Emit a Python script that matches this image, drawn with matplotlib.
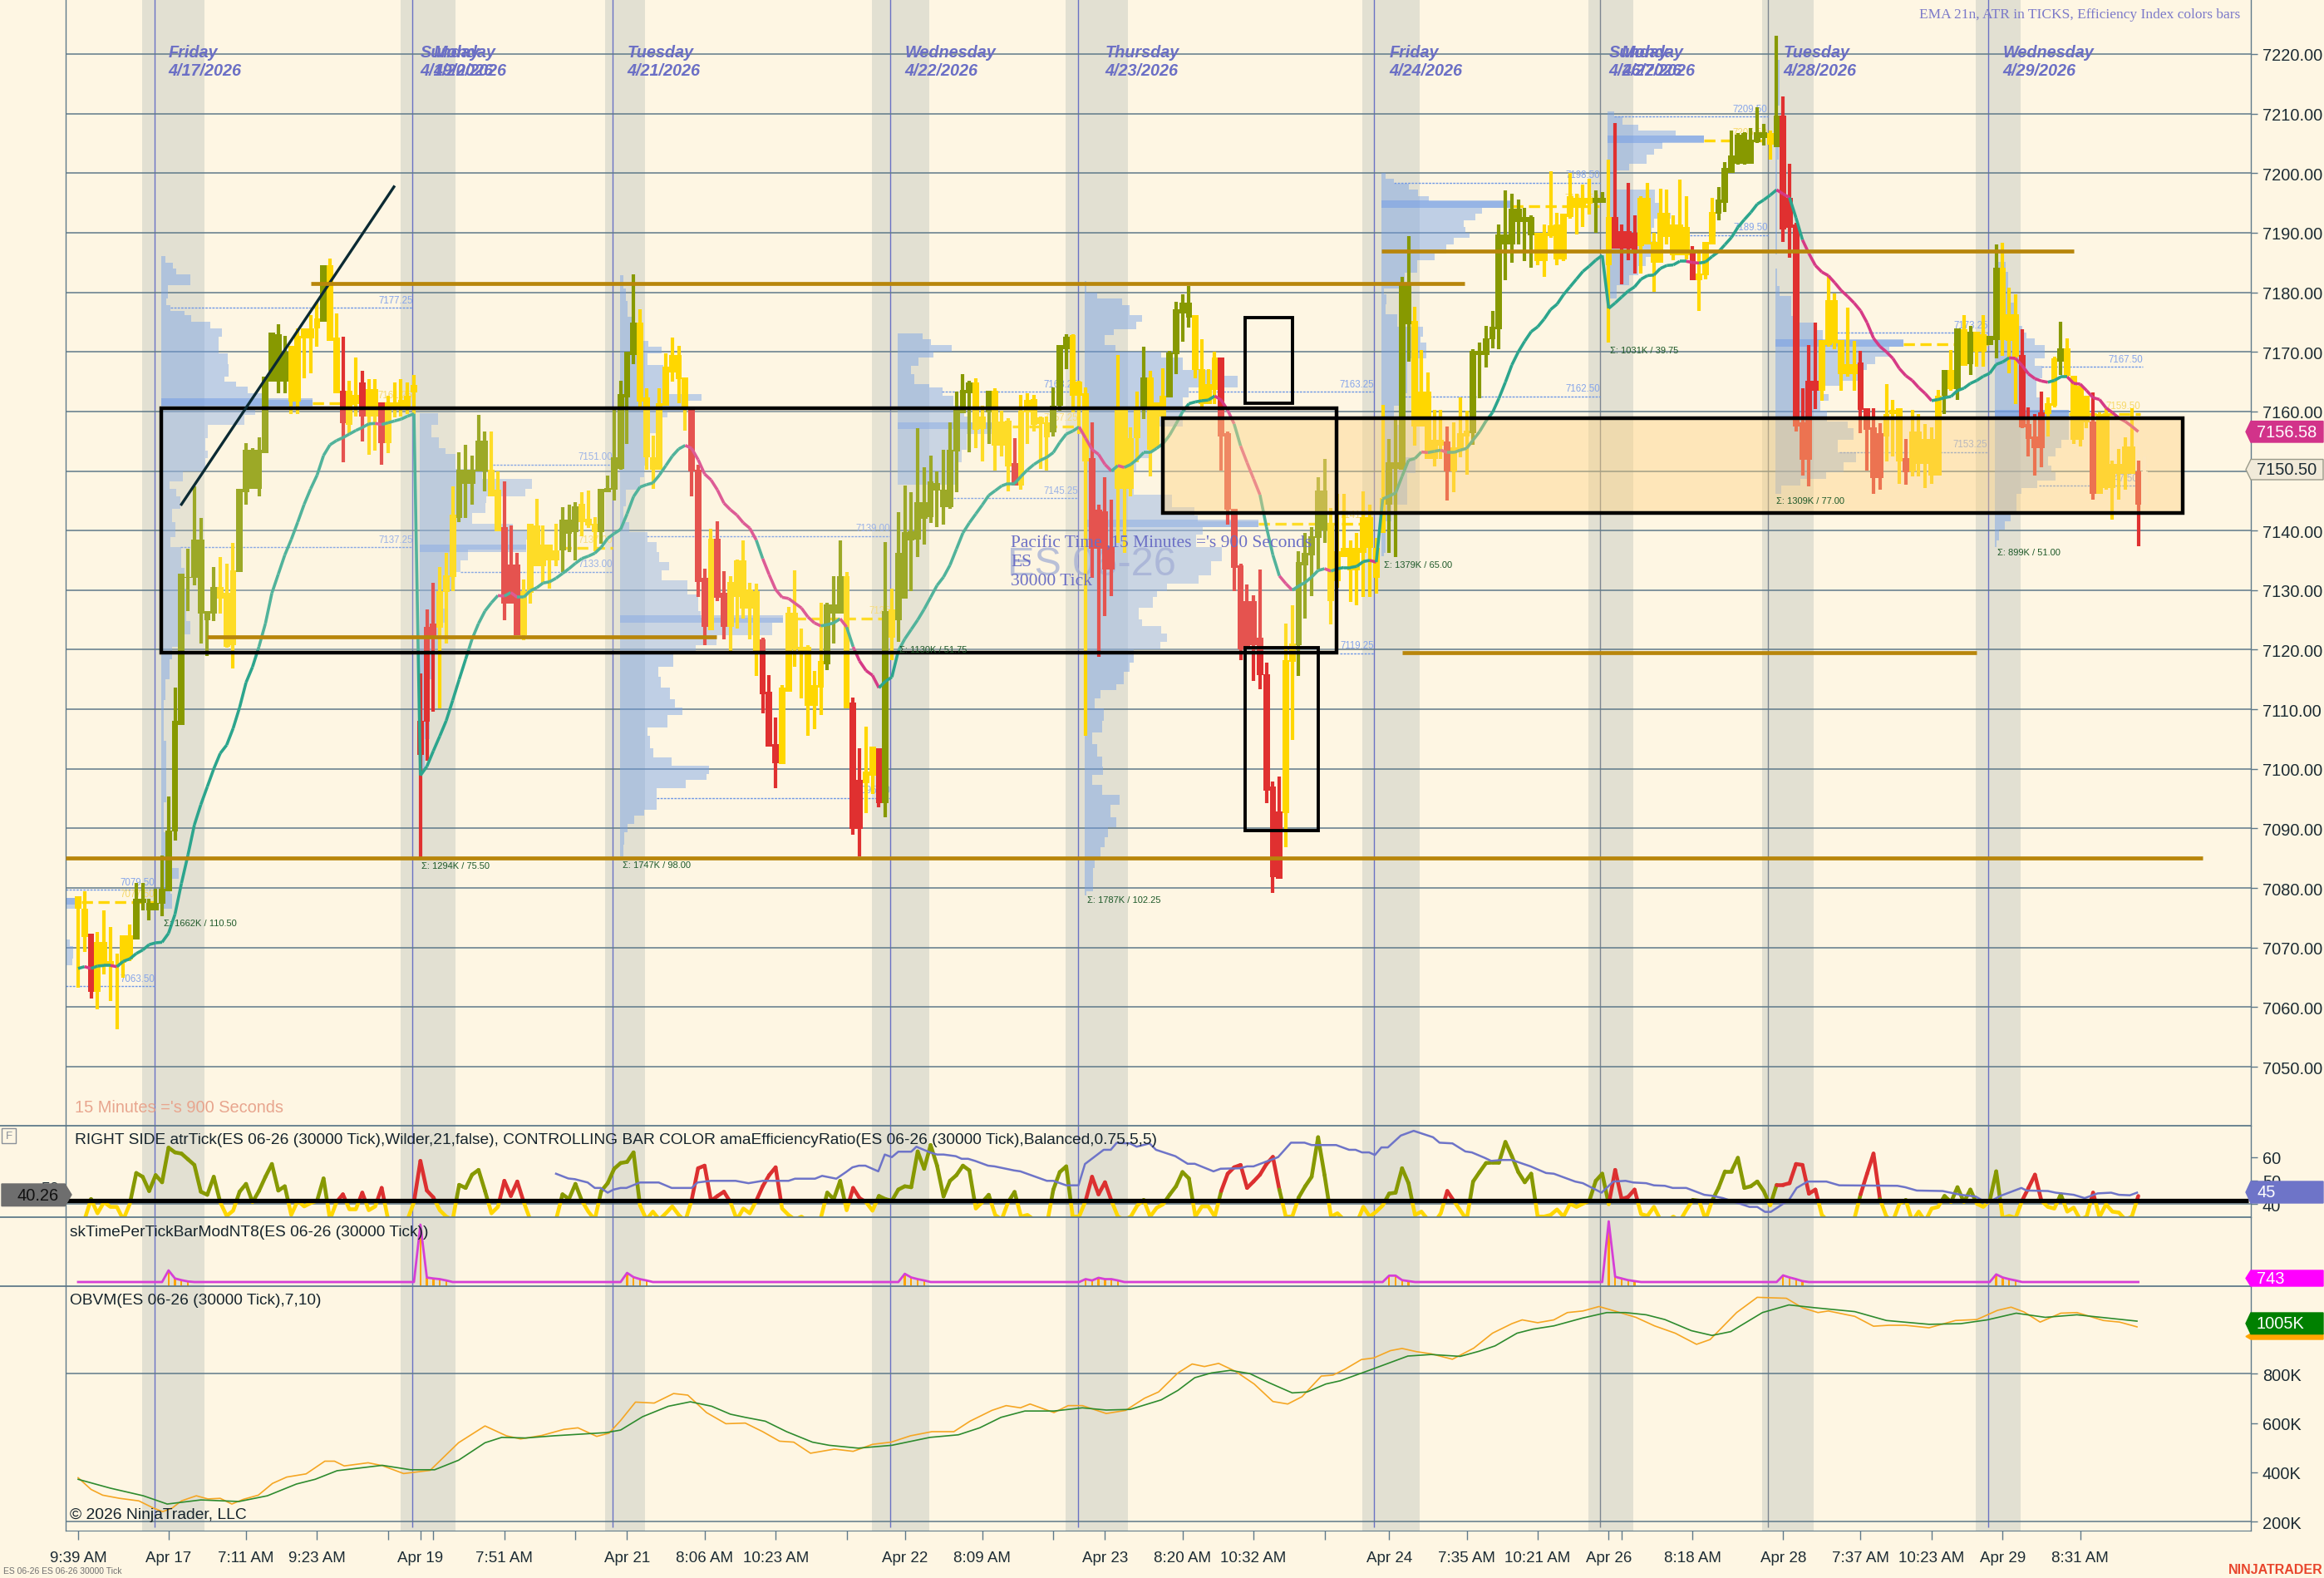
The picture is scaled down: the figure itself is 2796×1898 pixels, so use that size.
import numpy as np
import matplotlib
matplotlib.use('Agg')
import matplotlib.pyplot as plt
from matplotlib.collections import LineCollection
from matplotlib.patches import Polygon, Rectangle
from matplotlib.lines import Line2D

plt.rcParams['font.family'] = ['Liberation Sans', 'DejaVu Sans']

# price bars
bar_high = [
7078.6,7079.5,7072.4,7072.6,7076.3,7073.5,7069,7072,7073.9,7080.8,
7080.8,7078.2,7079.9,7085.5,7095.3,7113.7,7132.7,7137,7147.4,7142.1,
7126.5,7133.9,7135.5,7134.5,7137.9,7147,7154.7,7153.8,7155.7,7165.8,
7173.3,7174.6,7172.7,7171,7173.9,7173.9,7176.1,7178.4,7184.6,7185.7,
7176.5,7172.6,7165.2,7169,7166.8,7165.4,7165.4,7161.5,7162.6,7164.9,
7165.4,7164.9,7166.1,7116,7126.7,7131.2,7133.9,7136.3,7147.4,7153.2,
7154.4,7152.6,7159.4,7156.7,7156.7,7150,7148.2,7140.9,7136.2,7131.8,
7141.1,7145.3,7140.8,7137.7,7141.2,7144,7144.3,7144.7,7146.5,7146.7,
7142.2,7147,7149.2,7160.5,7165.2,7170,7183,7177.2,7163.9,7156,
7163.9,7169.7,7172.4,7171,7165.7,7160.2,7151,7133.6,7140.3,7141.6,
7133.2,7132.3,7135.2,7138.4,7131.3,7131.1,7122,7115.7,7108.6,7114,
7127.2,7133.3,7123.5,7120.8,7116.5,7127.9,7127.9,7132.4,7138.4,7133,
7112,7103.5,7107.1,7103.7,7103.5,7138,7130.3,7143.1,7147.5,7146.5,
7157.2,7150.6,7152.6,7150,7153.5,7158.2,7163.3,7166.2,7165.1,7165.5,
7161,7163.5,7163.9,7160.1,7158.9,7155.5,7162.8,7163,7162.8,7159.2,
7159.2,7164,7171.1,7173,7173,7165.1,7164,7158.2,7144.3,7148.9,
7145.2,7169.4,7160.2,7157.3,7163.3,7170.9,7166.8,7161.5,7167.2,7170.1,
7178.4,7179.7,7181.1,7176.1,7172.1,7167.1,7170,7169,7156.7,7143.7,
7134.4,7131,7129.1,7133.5,7117.8,7097.9,7098.7,7124.4,7127.4,7136.6,
7139.6,7140.6,7148.9,7152,7143.8,7146.2,7146.2,7138.4,7139.6,7146.6,
7144.3,7138.7,7161.1,7155.4,7158.6,7182.6,7189.4,7177.5,7170.3,7166.6,
7160.3,7160.3,7157.4,7158.2,7162.4,7160.1,7170.5,7171.5,7174.3,7176.9,
7191.4,7197.1,7196.5,7195.6,7194.2,7192.9,7190,7191.4,7200.3,7193.3,
7193.2,7200,7196.5,7198.1,7199.1,7197.1,7196.8,7202.2,7208.4,7191.4,
7198.4,7192.9,7196.1,7198.4,7190,7197.4,7197.2,7192.9,7198.9,7196.1,
7187.7,7186.6,7188.5,7195.8,7197.7,7201.9,7207.2,7206.8,7206.9,7207.6,
7211,7208.2,7207.2,7223,7212.9,7201.5,7191.6,7163.9,7171.2,7174.9,
7172,7182.8,7179.8,7172,7177.4,7171.9,7170.1,7160.6,7160.6,7158,
7164.6,7161.9,7160.6,7155.4,7160.3,7159.5,7157.9,7157.3,7163.6,7166.9,
7170.3,7174,7176.2,7174.3,7173.4,7176.2,7172.7,7188,7188.3,7180.8,
7179.7,7173.8,7160.7,7159.5,7163.3,7162.3,7169.2,7175,7172.3,7166,
7164.6,7162.6,7163.2,7159.8,7160.6,7151.8,7153.7,7155.6,7160.6,7151.8]

bar_low = [
7063.3,7069.2,7061.5,7059.6,7065.5,7061.1,7056.3,7065,7067.8,7071.4,
7076.3,7074.6,7076.2,7075.2,7079.5,7088,7107.3,7126.5,7130.8,7121,
7119,7124.8,7126.1,7120.3,7116.9,7133.1,7144.4,7147,7145.7,7153,
7165,7163,7163,7159.6,7159.6,7165.5,7166.4,7170.9,7175,7171.8,
7163,7151.4,7156.4,7159.2,7155,7152.7,7153.4,7151,7153,7159,
7159.2,7159.6,7159.6,7085,7101.4,7109.6,7110.2,7121.1,7129.9,7141.4,
7142.1,7144.4,7150,7146.6,7145.8,7139.9,7124.9,7127.9,7122.5,7121.6,
7127.8,7134,7131.3,7130.3,7134,7133,7136.4,7135,7139.1,7140.4,
7136.6,7137.8,7146.5,7145,7150.2,7154.5,7168,7160.4,7150.2,7147,
7150.2,7161,7165,7161.4,7156.8,7145.7,7128.9,7120.8,7123.3,7128.2,
7121.7,7119.8,7123.5,7125.2,7121.7,7115.6,7109.3,7103.7,7096.8,7100.8,
7112.9,7117.2,7111.8,7105.6,7106.7,7109.1,7116.6,7121,7126,7110.1,
7089,7085.3,7092.6,7095.8,7093.5,7091.9,7118.3,7121.3,7128.6,7129.9,
7135.5,7137.6,7141.3,7140.6,7141,7143.7,7146.4,7159.7,7153.1,7153.8,
7151.6,7154.5,7150.1,7152.5,7146.6,7147.5,7146.9,7154.5,7156.7,7150.4,
7150.1,7155.8,7160.1,7167.1,7159.9,7156.2,7105.6,7132,7118.8,7125.7,
7129,7137.9,7136.2,7145.7,7151.4,7158.7,7149.1,7153.8,7154.5,7162.3,
7166.3,7171.7,7174.1,7165.5,7160.4,7161.3,7161.3,7150.1,7141,7129.9,
7118.2,7120.3,7114.7,7113.4,7094.3,7079.2,7081.8,7086.8,7104.9,7115.6,
7125.2,7129,7133.5,7137.9,7124.3,7130.4,7136.3,7128,7127.5,7128.8,
7128.8,7129.4,7139.6,7136.2,7135.5,7150.4,7168.3,7154.2,7157.4,7152.3,
7150.7,7152,7145,7146.4,7152.3,7149.4,7154.4,7162.2,7167.4,7170.6,
7170.4,7182,7184.9,7188.1,7185.2,7184.1,7184.6,7182.6,7189.1,7184.6,
7185.2,7192.4,7189.7,7190.9,7193,7190,7195,7171.5,7187.3,7181.3,
7185.4,7183.2,7183.2,7188.1,7180.1,7184.9,7188.1,7185.4,7186.2,7185.5,
7182,7176.9,7182.2,7188.1,7192.1,7193.5,7200,7201.4,7201.4,7201.6,
7205.1,7204.6,7202.2,7204.4,7188.4,7185.8,7156.7,7149.3,7147.4,7160.4,
7161.8,7170.9,7170.4,7163.4,7165.9,7163.4,7156.3,7150.1,7146.2,7146.8,
7151.6,7152.5,7147.8,7147.7,7149.1,7149.1,7147.2,7147.8,7149.3,7159.5,
7163.4,7162,7167.7,7166.1,7167.5,7167.5,7171.2,7168.9,7169.3,7166.4,
7161.2,7157.2,7152.5,7149.3,7150.6,7155.8,7160.7,7166.1,7165.7,7154.6,
7154.1,7157.2,7145.2,7146.1,7146.9,7141.8,7145.2,7146.8,7149.5,7137.4]

body_top = [
7078.6,7076.5,7072.4,7071,7071,7067.7,7067.1,7072,7072,7078.2,
7078.2,7077.5,7077.5,7079.9,7089.7,7108,7132.7,7132.2,7138.5,7138.5,
7126.5,7130.5,7130.5,7129.5,7133.3,7147,7153.6,7153.6,7153.6,7165.8,
7173.3,7173,7170,7171,7172.7,7173.9,7173.9,7175.6,7184.6,7184.6,
7172.4,7163.5,7163.5,7162.8,7164.8,7163.7,7163.7,7161.5,7161.5,7161.5,
7162,7162.6,7164.5,7108.1,7123.9,7124.4,7129.9,7132.5,7142.7,7150.2,
7150.2,7150.2,7155.1,7155.1,7150.2,7146.8,7140.6,7134.3,7134.3,7129.9,
7141.1,7140.9,7137.7,7137.7,7136.7,7141.8,7141.8,7144.1,7144.5,7142,
7141.1,7147,7147.2,7152.3,7162.9,7170,7174.9,7174.9,7162.3,7152.3,
7161.4,7167.5,7169.5,7169.5,7165.7,7160.2,7150.2,7132,7138.6,7138.6,
7129.6,7131.4,7135,7135,7130.1,7129.9,7121.7,7113,7104.2,7113.7,
7126.2,7126.2,7120.5,7120.5,7114,7118.1,7127.6,7127.6,7132.3,7132.3,
7111.1,7098.1,7099.5,7103.7,7103.5,7126.5,7126.7,7136.2,7139.7,7139.9,
7144.7,7144.7,7148.2,7148,7146.8,7153.6,7160.2,7163.6,7164.8,7164.8,
7159.2,7163.5,7163.5,7158.3,7158.5,7151.3,7160.1,7161.9,7162.1,7159,
7158.2,7161,7171.1,7172.6,7172.8,7165,7163.1,7152.1,7143.5,7143.3,
7137.2,7160.2,7160.2,7155.5,7160.4,7165.7,7165.7,7161.5,7162.6,7169.9,
7177.2,7178.2,7178.2,7176.1,7167.1,7164.6,7169,7169,7156.3,7143.7,
7134.2,7128.1,7128.1,7122,7115.9,7097,7092.9,7118.3,7121.1,7134.7,
7136.2,7139.1,7146.7,7146.7,7140.8,7136.6,7137.1,7137.1,7137.1,7142.2,
7142.2,7137.1,7145.4,7151.5,7151.5,7181.2,7181.2,7175.2,7163.3,7163.3,
7155.2,7155.2,7154.9,7154,7156.3,7156.8,7170.2,7170.2,7172.3,7174.2,
7189.7,7189.7,7194.1,7194,7192.6,7192.6,7190,7190,7191.3,7191.4,
7193.2,7196.1,7195.8,7195.8,7195.8,7195.8,7195.8,7192.6,7192.6,7190.2,
7190.2,7190,7195.8,7195.8,7188.4,7193.3,7193.3,7191.4,7191.4,7191,
7186.8,7183.2,7188.5,7193.5,7195.6,7200.9,7203,7206.5,7206.8,7205.6,
7206.9,7206.9,7206.8,7209.7,7209.7,7195.9,7191.4,7158.2,7165.1,7165.1,
7172,7178.7,7178.7,7172,7168,7168,7168.2,7160.6,7157.3,7156.3,
7159.5,7160.3,7160.5,7152.1,7156.6,7156.6,7155.4,7155.4,7162.6,7166.9,
7167,7174,7173.8,7173.4,7173.4,7172.9,7172.7,7184.1,7184.1,7176.3,
7176.3,7169.4,7157.9,7155.8,7159.9,7161.4,7168.9,7170.6,7170.6,7166,
7164.3,7162.6,7158.3,7159.5,7159.5,7151.2,7151.2,7154.1,7154.1,7149.9]

body_bot = [
7076.5,7071.8,7062.5,7062.5,7067.1,7067.1,7066.8,7067.5,7068,7071.4,
7077.5,7076.2,7076.2,7077.3,7079.5,7089.5,7107.3,7132,7132,7126.1,
7125,7126.1,7128.6,7120.5,7120.8,7133.1,7146.4,7147,7147,7153,
7165,7165,7165,7161.7,7161.7,7172.2,7172.2,7173.9,7175,7171.8,
7163,7158,7157.7,7161.3,7159.2,7159.2,7159.2,7154.7,7154.7,7160.7,
7160.7,7160.7,7163.2,7102.3,7107.9,7122,7123.7,7129.7,7132.2,7142.1,
7147.9,7147.9,7150,7150,7145.8,7139.9,7127.8,7127.8,7122.5,7122.5,
7129.6,7134,7134,7135,7135,7136.7,7139.4,7139.7,7141.4,7140.8,
7139.7,7139.7,7146.5,7146.9,7150.4,7162.3,7169.5,7161.7,7152.3,7150.2,
7150.2,7161,7166.5,7165.4,7160.2,7149.9,7131.4,7123.8,7123.3,7128.7,
7123.8,7123.8,7128.9,7126.9,7126.9,7119.8,7112.5,7103.7,7101,7100.8,
7112.9,7120.1,7119.8,7110.6,7110.6,7113.6,7117.5,7126,7126,7110.1,
7089.9,7089.9,7097.6,7098.8,7094.2,7094.2,7122,7124.9,7128.6,7138.3,
7138.5,7142,7142.3,7146.7,7144,7144,7153.3,7159.7,7163.1,7156.9,
7157,7159.9,7154.2,7154.2,7150.8,7147.5,7147.5,7159.9,7157.7,7157.9,
7155.6,7156.5,7160.9,7170.5,7162.6,7162.6,7151.6,7136.9,7136.9,7133.5,
7133.5,7147,7147,7147,7155.5,7160.2,7153.6,7153.8,7159.2,7162.3,
7169.6,7176.5,7175.8,7166.9,7161.3,7161.3,7163.6,7155.8,7143.5,7133.7,
7120,7120,7120.7,7115.7,7096.3,7081.8,7081.6,7092.6,7118,7120.7,
7134.2,7135.9,7138.7,7140,7128.2,7131.5,7135.5,7133.3,7133.3,7136.3,
7137.1,7132.1,7139.6,7144.4,7150.4,7150.2,7174.6,7157.4,7157.4,7152,
7152,7154.2,7149.9,7149.9,7153.4,7155.8,7156.3,7169.4,7169.4,7172.1,
7173.8,7188.1,7188.1,7191.8,7191.8,7189.6,7185.2,7185.2,7189.4,7185.5,
7185.5,7192.6,7194.2,7194.2,7194.8,7195,7195,7184.5,7187.3,7187.3,
7187.3,7186.5,7187.8,7188.1,7184.9,7184.9,7189.3,7186.2,7186.2,7186.2,
7182,7182,7182.8,7188.1,7193.2,7195,7200.1,7201.6,7201.6,7201.6,
7205.2,7205.9,7204.8,7204.4,7190.5,7190.8,7157.5,7151.9,7151.9,7163.4,
7163.4,7171.2,7171.4,7166.3,7166.3,7166.3,7160.2,7156.9,7148.8,7148.8,
7155.8,7159.5,7151.6,7149.8,7149.9,7151.2,7151.2,7149.3,7149.3,7162.6,
7163.7,7163.7,7167.7,7168,7170,7170,7171.2,7172,7172,7171.9,
7169.2,7157.3,7155.4,7153.9,7153.9,7159.5,7160.9,7168.3,7166,7155.2,
7155.2,7158.1,7146.1,7146.1,7147.1,7147.2,7149.5,7149.5,7149.5,7144.4]

bar_color = ("yyryyyyyyo" "oooooooooo" "ooyyyooooo" "oooyyyyyoy" "yryyryyryy" "yyyrrryyyo"
             "ooooyyrrry" "yyyyyoooyy" "yooooooyyy" "yyyyyrrryr" "ryyyyyrrry" "yyyyyyoooy"
             "rryyroyooo" "oooooooooy" "yoyyyryyyy" "yoooyyyrrr" "ryyyyoyyyo" "oooyyyyrrr"
             "rrrrrrryyo" "ooooyyyyyy" "yyyooooyyy" "yyryyyoooo" "ooooooyyyy" "yyyyyooyrr"
             "rryyyyyyyy" "ryyyoooooo" "ooyorrrrrr" "yyyyyyrrrr" "yyyryyyyyo" "yoyoyyooyy"
             "yrrrryyoyy" "yyryyyyyyr")

ema21 = [
7066.5,7066.8,7066.5,7066.9,7067,7067,7066.8,7067.7,7068.1,7069,
7069.6,7070.5,7070.8,7070.9,7072.4,7075.6,7080.8,7085.5,7090.6,7094,
7097,7100,7102.6,7104,7106.8,7110.3,7114.5,7117.1,7120.5,7124.4,
7129.5,7132.7,7135.9,7138.5,7141.4,7144.4,7147,7149.3,7152.6,7154.4,
7155.1,7155.6,7156.2,7156.8,7157.3,7157.9,7158,7157.8,7158.1,7158.4,
7158.7,7159.2,7159.6,7098.9,7100.4,7103,7105.5,7108.1,7111.5,7115,
7118.4,7121.8,7124.4,7126.5,7127.9,7129.1,7129,7129.6,7128.8,7128.8,
7129.9,7130.4,7131.2,7131.4,7132,7132.8,7133.6,7134.5,7135.3,7135.7,
7136.2,7137.2,7138.7,7139.5,7140.2,7142.8,7145.7,7147.3,7147.7,7148,
7149.3,7150.9,7152.5,7153.7,7154.3,7153.8,7151.9,7149.5,7148.5,7146.8,
7144.6,7143.5,7142.6,7141.3,7140.4,7138.4,7135.3,7132.6,7130.1,7128.8,
7128.6,7127.8,7127,7125.5,7124.5,7124,7124.2,7124.5,7125.2,7123.8,
7120.5,7118.1,7116.5,7115.7,7113.6,7114.7,7115.4,7119.8,7121.8,7123.4,
7125,7126.8,7128.8,7130.8,7132.2,7134.2,7136.9,7139.6,7141.3,7142.8,
7144.3,7145.9,7146.7,7147.5,7147.9,7147.9,7149.1,7150.2,7151.1,7151.8,
7152.3,7153.1,7154.8,7156.2,7156.7,7157.4,7155.5,7153.6,7152.8,7151.1,
7150,7150.9,7150.6,7151.1,7152,7153.1,7153.1,7153.8,7154.6,7156,
7157.9,7159.9,7161.3,7161.6,7161.8,7161.9,7162.6,7161.9,7160.2,7157.9,
7154.2,7151.4,7148.7,7146,7140.6,7135.9,7132.4,7131.1,7130,7130.7,
7131.3,7132.2,7133.3,7133.6,7133.2,7133.6,7133.8,7133.8,7134,7134.8,
7135,7134.7,7145.3,7145.8,7146.3,7149.1,7151.8,7152.1,7153.2,7153.1,
7153.3,7153.5,7153.1,7153.1,7153.5,7153.8,7155.2,7156.6,7158.4,7159.8,
7162.2,7164.9,7167.8,7170,7171.8,7173.4,7174.2,7175.5,7177.1,7178,
7179.6,7180.9,7182.2,7183.5,7184.4,7185.4,7186.2,7177.3,7178.2,7179.2,
7180.2,7180.9,7182.2,7182.8,7182.9,7184,7184.5,7184.6,7185.2,7185.2,
7185,7184.9,7185.1,7186,7186.8,7188,7189.2,7190.9,7192.2,7193.4,
7194.8,7195.5,7196.3,7197.2,7196.5,7195.9,7192.5,7188.8,7186.5,7184.5,
7183.4,7182.8,7181.6,7180.3,7179.3,7178.2,7176.9,7174.9,7172.3,7170.9,
7170,7168.9,7167.2,7166,7165.2,7164,7163,7161.8,7162,7162.3,
7162.5,7163.5,7163.9,7164.7,7165.2,7165.9,7166.4,7167.9,7168.3,7169,
7168.9,7167.7,7166.3,7165.5,7165.1,7164.9,7165.2,7165.8,7165.8,7164.7,
7164.6,7163.5,7162.3,7162,7160.6,7159.8,7158.9,7158.3,7157.5,7156.6]

atr_tick = [
32.8,33.5,42.2,36.2,40.9,38.9,38.9,33.5,40.2,53.2,51.6,45.6,52.3,49.3,63.9,61.9,61.4,59,56.6,45.3,
44,51.6,40.9,35.1,37.3,45.3,48.6,40.9,45.6,51.6,57,45.8,47.6,35.5,41.5,39.1,40.5,41.5,50.9,33.5,
40.9,44.2,37.9,37.9,44.9,37.5,39.1,46.9,33.5,30.8,30.8,33.5,40.9,58.3,45.8,42.9,37.5,34.8,33.5,48.2,
46.9,52.5,54.5,45.6,36.2,38.9,49.9,43.5,49.6,40.9,33.5,30.8,30.8,30.8,33.5,44.2,42.2,48.6,41.5,36.9,
33.5,45.6,48.9,55,57.4,57.9,61.9,39.5,33.5,36.9,33.5,36.2,39.1,35.5,32.8,41.8,55.2,56.3,41.5,43.5,
45.3,40.9,33.5,38.2,36.2,41.5,47.6,52.3,55.6,38.2,35.5,33.5,34.8,32.8,32.8,34.2,44.9,42.2,49.9,37.5,
46.9,42.6,40.9,37.3,43.5,42.2,41.5,46.2,47.6,47.2,62.3,55,65,56.3,43.3,49.9,52.3,56.3,54.3,38.2,
40.9,44,35.5,33.5,40.9,45.2,34.8,35.5,33.5,31.5,31.5,46.2,53.6,56,34.8,34.8,41.5,51.6,44.2,49.3,
41.5,34.8,33.5,34.8,39.5,41.8,34.8,38.5,40,44,47.6,53.6,50.9,34.8,39.1,39.1,34.8,45.6,52.9,55.6,
56.6,46.9,49.6,52.5,57,60,46.2,34.8,34.8,42.9,47.6,51.6,68.3,52.3,34.8,36.2,33.5,32.2,32.2,38.9,
34.8,36.9,39.5,44.5,44.9,55.2,48.9,35.5,36.9,33.5,32.2,36.2,45.6,41.5,37.5,33.5,49.6,53.6,57.4,57.6,
57.6,66.3,60.3,53.6,49.3,52.9,34.8,34.8,35.5,37.8,34.8,40.2,38.9,40.2,41.5,49.9,52.9,40,54.5,42.2,
43.1,46.2,35.9,35.1,38.9,33.5,32.8,34.8,32.8,37.5,41.8,41.5,33.5,41.5,46.9,53.9,53.9,59.6,46.9,47.6,
49.6,45.6,39.5,48.2,48.2,48.9,57,56.6,44.5,46.2,35.5,32.8,32.2,32.2,32.2,33.5,44.2,52.9,61.4,42.2,
34.8,32.8,40.2,41.8,32.8,36.9,32.8,38.2,38.9,43.5,40.9,47.2,40.9,46.2,40.2,38.9,41.5,53.9,34.2,35.1,
34.2,41.5,46.9,52.5,41.5,38.9,38.2,44.2,36.9,38.6,33.5,34.8,44.9,34.6,40,36.9,36.5,33.5,34.8,43.5]
atr_red_spans = [(40, 48), (52, 56), (65, 69), (95, 101), (105, 109), (119, 122), (155, 161),
                 (177, 186), (211, 213), (237, 242), (263, 270), (276, 279), (301, 305), (311, 313), (318, 319)]

eff_bars = [74,75.9,76.9,78.9,80,80.9,82,82.9,84,84.9,87,89.9,91.9,95,95.9,98,101.8,103.8,106,110,111,114.1,115.2,117.4,
 118.9,119.9,120.9,121.9,123.9,124.9,126,127,129,129.8,131.9,133,134,135.9,136.8,137.8,138.9,140.9,141.9,144.9,145.9,
 150,151,153,154.9,155.9,158.8,159.9,160.8,162.9,163.9,165.9,166.9,169.9,171.8,172.9,175.8,176.9,179.9,181,182,185.8,
 187.8,189.9,191,194.8,196.8,197.8,198.8,199.9,200.8,201.8,202.8,204.8,206.8,209.8,210.8,212.8,214.8,215.8,217.8,218.8,
 220.4,222,224.9,227.3,228.5,231.8,233,235.9,237.7,239.6,240.8,242.8,244,245.7,246.9,249,251.8,253,254.7,258.8,260,
 261.2,262.1,264.9,266.1,267.8,270.7,272.7,281.7,282.9,284.7,288.7,291.5,293.8,295.6,297.7,300.9,301.7,305,306.2,309,
 310.7,312.7,314.8,316,317.7,318.8]
eff_vals = [52.9,50.9,50.6,49.2,46.9,46.9,44.9,46.2,46.9,46.9,49.2,49.2,46.9,46.9,49.2,49.9,49.9,48.9,49.9,49.9,50.8,50.8,52,50.8,
 53.6,55.6,56.3,56.3,53.9,61,59.9,62.2,62.2,64.3,61.9,61,61,60.3,59.2,59.2,58.3,56.3,56,54.3,53.9,
 49.9,49.9,48,48,57,63,63,65.9,65.7,64.3,65.7,63,60.3,57.1,57.1,53.9,55,55.2,56,56,59.9,
 66,66,65,65,63,63,61.9,61.9,60.8,64,64,69,71,68.3,66,65.7,62.3,61.9,59.6,58.3,
 58.7,58.7,56,53.2,52.9,49.6,48.9,44.9,49.6,49.9,49.2,48.9,48,47.8,46.9,46.9,44,43.6,42.6,38.9,38.9,
 36.8,36.8,41.8,46.9,49.6,49.6,48,47.8,47.2,45.8,45.6,44,43.3,40.5,43.6,46.9,45.8,45.6,44.9,44,
 42.6,44.6,44.9,44,43.8,44.9]

# time per tick spikes, everything else sits at the 743 level
tick_base = 743
spike_bars = [14,15,16,17, 53,54,55,56,57, 85,86,87,88, 128,129,130,131, 156,157,158,159,160,161,
              203,204,205,206, 237,238,239,240,241, 264,265,266,267, 297,298,299,300]
spike_vals = [1093,850,800,760, 2468,878,850,830,790, 1018,890,830,790, 990,880,830,790, 830,790,870,830,830,790,
              935,935,800,770, 2568,900,850,800,770, 943,880,830,770, 973,880,830,790]

obv_bars = [0,2,3.8,6.4,9.4,11.6,13.1,14.6,16,18.3,20.1,22,23.8,25.6,27.9,30.1,32.3,35.3,38.2,39.7,41.2,44.9,47.1,50.4,54.5,
 58.9,63,66.3,68.5,71.8,75.2,77.4,80.3,82.2,84,86.3,89.2,92.2,94.4,97.3,100.3,103.3,106,108.6,110.8,113.4,117.1,120,123,
 125.9,128.9,132.2,135.6,138.1,141.5,143.7,145.9,147.4,151.1,153.3,155.5,159.2,162.2,165.1,167.3,170.3,172.5,174.4,176.6,
 179.2,182.1,185,187.3,189.5,192.5,194.3,196.2,198.7,200.6,203.2,205,207.2,209.5,212.8,216.1,219,222,223.6,226,228.5,230.6,
 233,235.5,237.9,241.2,244.1,247.3,250.6,252.7,256.8,260,264.5,267,269.4,271,275.1,278,280.4,282.9,286.6,290.7,294,297.2,
 299.3,301.3,303.8,307,309.5,313.6,316.1,318.8]
obv_vals = [378.5,331,307.7,294.9,284.6,256.2,240.8,256.2,284.6,305.2,292.3,294.9,271.7,291,307.7,355.4,381.1,394,445.5,445.5,426.2,439,427.4,395.3,408.2,
 520.2,588.4,548.5,535.6,549.8,574.3,580.7,546,558.8,610.3,685,681.1,719.7,713.3,642.5,597.4,600,565.2,526.6,522.7,477.7,494.4,485.4,513.7,
 522.7,548.5,565.2,565.2,607.7,651.5,670.8,661.8,677.3,642.5,670.8,670.8,638.7,651.5,700.4,726.2,803.4,839.5,829.2,842,
 809.9,758.4,687.5,677.3,706.9,790.6,794.4,818.9,857.5,863.9,893.6,902.5,889.7,880.7,858.8,903.8,964.4,1003,1018.4,1006.9,1018.4,1048,
 1054.5,1072.5,1054.5,1028.7,994,964.4,919.3,938.6,1048,1109.8,1106,1067.4,1048,1054.5,1032.6,992.7,996.5,996.5,986.3,1015.9,1019.7,1057,
 1069.9,1050.6,1009.4,1045.5,1048,1015.9,1009.4,990.1]
obv_avg_bars = [0,5,10.1,13.8,19,24.9,29.3,33.8,36.7,40.1,47.1,51.5,55.2,58.9,63,65.6,69.3,73.7,81.8,84,87.4,91.4,94.8,98.1,101,103.3,
 106.4,109.7,113.7,116.3,120.8,126,131.9,136.3,139.6,142.9,146.6,151.1,155.5,159.2,162.9,167.7,170.3,172.9,175.5,178.4,181.4,184.3,
 188,190.3,193.2,195.4,199.9,205.9,209.5,214,216.9,219.4,222.8,225.3,228.5,233,236.7,239.6,242.8,245.7,249.8,253,255.9,260.8,264.9,
 269,275.1,280,286.6,291.5,295.6,300.1,304.6,309.5,318.8]
obv_avg_vals = [372,336,305.2,271.7,288.4,282,305.2,352.8,372,406.9,428.7,410.7,410.7,449.3,520.2,542,539.5,548.5,561.4,571.7,625.8,668.2,686.3,668.2,636,623.2,
 607.7,565.2,522.7,509.9,498.3,509.9,542,552.4,580.7,623.2,648.9,648.9,661.8,652.8,655.4,694,732.6,784,803.4,813.7,800.9,764.8,
 722.3,726.2,758.4,771.3,813.7,871.7,878,870.4,891,912.9,964.4,981,994,1026.1,1048,1048,1039,1019.7,974.6,955.3,970.8,1048,1079,
 1067.4,1051.9,1015.9,1000.4,1003,1018.4,1045.5,1028.7,1039,1013.3]

# volume profiles per session: price levels and width in bars
prof_starts = [-1.93, 12.9, 52.9, 83.9, 126.9, 155.9, 201.8, 236.8, 262.8, 296.8]
prof_prices = [
 [7078.3,7077.4,7076.5,7071.3,7070.2,7068.1,7067],
 [7186.1,7185,7184,7183,7181.2,7179,7177.8,7176.9,7176.1,7175,7173.9,7172.6,7169.7,7168,7165.8,7165,7164.1,7163,7162,7160.7,7159.4,7157.7,7155.5,7153.4,7152.1,7150,7148.3,7147,7145.7,7143.6,7141.4,7138.9,7137.2,7133.8,7130.3,7126.9,7124.8,7122.6,7120.5,7118.4,7115,7111.5,7104.7,7097.9,7094.4,7089.3,7083.3,7081.6,7079.1,7076.5],
 [7159.7,7157.7,7155.7,7153.9,7152.8,7150.4,7148.7,7147,7145.8,7144.6,7142.9,7141.2,7140,7138.5,7136.8,7135,7133,7129.8,7126.9,7124.6,7120,7115,7105,7100,7097],
 [7182.8,7180.7,7178.6,7175.9,7171.9,7170.9,7169.8,7167.8,7165.1,7162.9,7161.8,7160,7159,7156.3,7153.6,7150.9,7148.9,7146.8,7144.1,7141.4,7139.7,7138,7136.4,7134.7,7133.3,7131.6,7129.3,7126.5,7125.4,7124.5,7122.5,7120.8,7119.4,7117.1,7115.4,7113.7,7111.7,7110.3,7109,7106.9,7105.6,7103.5,7101.9,7100.5,7099.1,7098.1,7096.8,7094.4,7093.1,7092.1,7090.7,7089.3,7087.3,7085.3],
 [7173.1,7172.1,7171.1,7170,7169,7167.7,7166.3,7164.6,7164,7162.6,7160.9,7159.2,7158.1,7157.2,7156.2,7153.5,7151.4,7149.1,7147.7],
 [7181.9,7179.9,7178.9,7177.8,7176.1,7175.1,7173.8,7172.8,7171.1,7170,7169,7167,7166,7165,7164,7162.3,7157.5,7154.8,7152.1,7150.1,7148.1,7146,7144,7142.6,7141.6,7140.6,7139.3,7137.2,7134.9,7132.5,7131.1,7129.8,7128.8,7127.1,7125.1,7124,7122.7,7121.3,7120,7117.9,7116.3,7114.2,7113.2,7111.9,7110.2,7108.1,7106.1,7104.1,7102.1,7100.4,7099,7097.3,7095.6,7093.9,7091.9,7090.2,7088.5,7086.8,7085.1,7083.4,7081.1,7079.4,7078.7],
 [7200.1,7199.1,7198.2,7197.2,7196.1,7195.3,7194.2,7193.2,7192.1,7191,7190,7189.1,7188.1,7186.5,7185.4,7183.3,7180.6,7179.6,7178,7176.3,7174.2,7172.6,7171.5,7168.9,7165.7,7163,7160.9,7157.7,7152.3,7149.6,7144.3,7141.6,7136.3,7135.7],
 [7210.3,7209.5,7208.1,7207.1,7206.3,7205.2,7204.1,7203.1,7201.5,7200.4,7198.2,7197.2,7195,7193.4,7192.4,7190.8,7188.6,7186,7184.4,7182.8,7181.2,7179,7175.3],
 [7219,7212.8,7211.3,7207.9,7202.2,7186.3,7184,7181.1,7179.4,7176,7174.9,7173.7,7172,7170.9,7169.2,7168,7166.9,7165.2,7164.3,7162.9,7161.8,7160.1,7158.3,7157.2,7155.2,7153.2,7151.5,7149.8,7148.7,7147.5,7146.1],
 [7188,7185.1,7183.4,7178.3,7174.3,7173.2,7172.3,7171.2,7168.9,7167.7,7165.5,7162.3,7160.2,7159.2,7158.1,7156.6,7155.2,7153.8,7152.4,7150.9,7149.8,7148.4,7147.2,7146.1,7144.1,7142.7,7141.5,7140.1,7138.4,7137.3],
]
prof_vols = [
 [1.6,1.6,0,0.7,1.2,1,0],
 [.6,1.8,2.3,4.5,1,.8,1.4,3.6,4.6,7.5,9.4,8.9,10.3,10.4,9.8,11.6,13.4,16.2,23.4,14.5,12.8,7.2,6.8,7.2,6.8,3.3,1.2,2.3,2.9,1.6,2.1,1.4,3.1,3.6,3.8,3.8,4.5,3.6,1.6,1.2,.6,.4,.8,.8,.3,.6,2.7,1.4,1.6,0],
 [2.8,1.8,3,4,5.5,9.6,17.4,16.3,10.3,10.2,8.1,14.4,16.6,16.5,7.4,6.3,5.2,3.3,4.4,2.8,2.2,1.5,.8,.3,0],
 [.5,.9,1.2,1.8,4.4,6.4,4.2,6.7,7.4,12.6,10,7.4,5.7,4.4,3.9,3.7,3.1,.9,.5,1.4,4.2,5.7,6.1,7.6,6.5,10.4,12.1,12.5,25.2,23.6,14.9,11.7,8.2,5.9,6.3,7.8,8.5,9.7,7.4,4.2,4.6,5.2,8,13.8,13.4,10.2,5.7,5.7,3.7,2.2,1.2,.7,.5,0],
 [3.9,5.2,8.4,5.6,3.2,2.1,2.6,4.9,6.9,8.6,10.3,11.2,17,17,10.7,9.9,9.4,9.2,0],
 [.2,1.9,5.7,6.9,8.8,7.9,4.5,3,4.7,11.8,15.2,21.4,23.6,23.6,16.1,15.2,10.9,10.1,7.9,7.1,7.5,13.5,16.9,17.4,26.8,18.2,17.2,21.2,19.5,17.6,12.7,11.2,10.5,8.3,8.8,11.8,12.7,11.7,7.5,6.9,6,4.9,2.4,1.5,2.9,2.7,1.1,1.9,2.6,2.8,1.1,2.6,5.4,3.9,4.9,3.6,3,2.4,1.5,1.3,1.2,.2,0],
 [.6,1.9,4.2,5.7,7.3,19.9,15.6,14.5,12.8,13,13.6,11.2,10,8.3,5.5,3.6,.4,.8,.6,2.5,6.4,6,6.9,4,4,3.6,1.9,3.2,5.3,4,1.5,.6,.4,0],
 [1,2.3,4.8,10.6,14.9,8.5,7.2,6.1,3.3,1.4,1.2,7.4,8.5,9.8,7.2,6.8,7.6,5.9,4.8,3.3,1.4,.1,0],
 [.7,.7,.3,.5,.3,0,.3,.7,2.4,3.7,6.3,7.4,19.8,17.7,15.4,14.2,13.4,10,7.4,8.2,7,8,11.2,12.1,9.7,12.5,10.6,7.8,3.9,.9,0],
 [.2,1.7,2.1,3.2,4.3,4.9,6.2,7.7,6.2,7.3,6.4,6.9,11.5,11.5,11.4,11.4,10.3,9.4,8.2,8.8,9.4,6.6,4.1,3.4,3.4,2.4,1.5,.6,.2,0],
]
poc_prices = [7077.8, 7161.6, 7137, 7125.2, 7157.6, 7141.2, 7194.8, 7205.7, 7171.5, 7159.7]
poc_widths = [1.6, 23.4, 16.5, 25.2, 17, 26.8, 19.9, 14.9, 19.8, 11.5]

# session shading and day separators (bar units)
shade_spans = [(9.9,19.6),(49.9,58.4),(81.6,87.8),(122.9,131.8),(152.9,162.6),(198.8,207.7),(233.8,240.8),(260.7,268.7),(293.8,300.8)]
day_lines = [11.9,51.8,82.8,125.8,154.8,200.7,235.7,261.6,295.7]
day_line_cols = ['#6a72c4']*6 + ['#7d8590','#7d8590','#6a72c4']

day_bars = [14,53,55,85,128,159,203,237,239,264,298]
day_names = ['Friday','Sunday','Monday','Tuesday','Wednesday','Thursday','Friday','Sunday','Monday','Tuesday','Wednesday']
day_dates = ['4/17/2026','4/19/2026','4/20/2026','4/21/2026','4/22/2026','4/23/2026','4/24/2026','4/26/2026','4/27/2026','4/28/2026','4/29/2026']

tick_bars = [0,14,26,37,53,66,85,97,108,128,140,159,171,182,203,215,226,237,250,264,276,287,298,310]
tick_labels = ['9:39 AM','Apr 17','7:11 AM','9:23 AM','Apr 19','7:51 AM','Apr 21','8:06 AM','10:23 AM','Apr 22','8:09 AM','Apr 23',
               '8:20 AM','10:32 AM','Apr 24','7:35 AM','10:21 AM','Apr 26','8:18 AM','Apr 28','7:37 AM','10:23 AM','Apr 29','8:31 AM']
minor_bars = [48,55,77,119,151,193,239]

# drawn levels: price, from bar, to bar
gold_levels = [(7085,-1.93,329),(7181.5,36,214.7),(7122.2,20,98.8),(7119.5,205,294),(7186.9,201.8,309)]
blue_levels = [('7177.25',7177.4,14.3,51.8),('7137.25',7137.2,15.8,51.8),('7079.50',7079.7,-1.9,11.9),('7063.50',7063.5,-1.9,11.9),
               ('7151.00',7151.1,64.2,82.8),('7133.00',7133.1,59.2,82.8),('7139.00',7139.1,88,125.8),('7095.00',7095.1,89.6,125.8),
               ('7163.25',7163.3,133.7,154.8),('7145.25',7145.4,135.5,154.8),('7163.25',7163.3,172,200.7),('7119.25',7119.4,195.4,200.7),
               ('7162.50',7162.5,205.4,235.7),('7198.50',7198.4,203.7,235.7),('7209.50',7209.5,237.9,261.6),('7189.50',7189.6,249.5,261.6),
               ('7173.25',7173.2,272.3,295.7),('7153.25',7153.2,272.7,295.7),('7167.50',7167.5,304,319.7),('7147.50',7147.5,303.6,319)]
poc_levels = [('7077.50',7077.6,.5,11.9),('7161.25',7161.4,36.3,51.8),('7137.00',7137.1,74.6,82.8),('7157.25',7157.5,144.6,154.8),
              ('7125',7125.2,111,125.8),('7141.25',7141.2,182.8,200.7),('7194.50',7194.4,222,235.5),('7205.50',7205.5,251.7,261.6),
              ('7171.25',7171.3,282.6,295.7),('7159.50',7159.5,308.2,319.3)]
sigma_labels = [('Σ: 1662K / 110.50',13.2,7074.2),('Σ: 1294K / 75.50',53.2,7083.8),('Σ: 1747K / 98.00',84.3,7083.9),('Σ: 1130K / 51.75',127.2,7120.1),
                ('Σ: 1787K / 102.25',156.2,7078),('Σ: 1379K / 65.00',202.2,7134.3),('Σ: 1031K / 39.75',237.2,7170.3),('Σ: 1309K / 77.00',263,7145),('Σ: 899K / 51.00',297.2,7136.4)]
# boxes: left bar, right bar, top price, bottom price
black_boxes = [(12.9,194.9,7160.5,7119.5,'#fdf3dc',.18,3.2),(168,325.9,7158.9,7143,'#ffd27f',.42,3.2),
               (180.7,188,7175.8,7161.4,'none',1,2.8),(180.7,192,7120.3,7089.7,'none',1,2.8)]

BG = '#fef6e3'
GRID = '#5f7a8a'
COLS = {'y': '#ffd700', 'o': '#879900', 'r': '#e03030'}
W, H = 2796, 1899
XLIM = (-1.93, 336.43)

fig = plt.figure(figsize=(W/100, H/100), dpi=100, facecolor=BG)

def panel(top, bottom):
    a = fig.add_axes([79/W, 1-bottom/H, (2708-79)/W, (bottom-top)/H])
    a.patch.set_alpha(0)
    a.set_xlim(*XLIM)
    for s in ['top', 'bottom']:
        a.spines[s].set_visible(False)
    for s in ['left', 'right']:
        a.spines[s].set_color(GRID)
        a.spines[s].set_linewidth(1.0)
    a.yaxis.tick_right()
    a.tick_params(axis='y', length=6, width=1, color=GRID, labelsize=14.4, pad=4, labelcolor='#1c2b33')
    a.set_xticks([])
    a.grid(axis='y', color=GRID, lw=1.1)
    a.set_axisbelow(True)
    return a

# background with the session bands
bg = fig.add_axes([79/W, 1-1842/H, (2708-79)/W, 1842/H])
bg.set_xlim(*XLIM); bg.set_ylim(1842, 0); bg.axis('off')
for a0, a1 in shade_spans:
    bg.axvspan(a0, a1, color='#e2e0d2', lw=0, zorder=1)

ax = panel(0, 1355)
ax.set_ylim(7040.1, 7229.2)
ax.set_yticks(np.arange(7050, 7221, 10))
ax.set_yticklabels(['%.2f' % v for v in np.arange(7050, 7221, 10)])

for st, pr, vo in zip(prof_starts, prof_prices, prof_vols):
    ax.fill_betweenx(pr, st, st+np.array(vo), step='post', color='#76a2e9', alpha=.46, lw=0, zorder=1.2)
ax.barh(poc_prices, poc_widths, left=prof_starts, height=1.2, color='#6f9be6', alpha=.5, lw=0, zorder=1.3)

ax.text(156.9, 7134.4, 'ES 06-26', fontsize=35, color='#8f9fd4', alpha=.75, ha='center', va='center', zorder=1.5)

for lab, p, b0, b1 in blue_levels:
    ax.plot([b0, b1], [p, p], color='#6f98e6', lw=1, ls=(0, (2, 1)), zorder=1.6)
    ax.text(b1, p+.5, lab, color='#86a5ea', fontsize=8.3, ha='right', va='bottom', zorder=1.6)
for lab, p, b0, b1 in poc_levels:
    ax.plot([b0, b1], [p, p], color='#ffd700', lw=2.4, ls=(0, (4, 2)), zorder=1.6)
    ax.text(b1, p+.6, lab, color='#f7d96a', fontsize=8.3, ha='right', va='bottom', zorder=1.6)

x = np.arange(len(bar_high))
cc = [COLS[c] for c in bar_color]
ax.vlines(x, bar_low, bar_high, colors=cc, lw=3.0, capstyle='butt', zorder=3)
ax.bar(x, np.array(body_top)-np.array(body_bot), bottom=body_bot, width=1.0, color=cc, lw=0, zorder=3)
# current bar still forming
ax.bar([320], [5.6], bottom=[7144.4], width=1.0, color='#fdf6ea', lw=0, zorder=3)
ax.vlines([320], 7144.4, 7152.4, colors='#fdf6ea', lw=3.0, zorder=3)

e = np.array(ema21)
segs = [[(i, e[i]), (i+1, e[i+1])] for i in range(len(e)-1)]
de = np.diff(e)
ax.add_collection(LineCollection(segs, colors=['#d63a86' if -3 < d < -.05 else '#2ca58d' for d in de], lw=2.6, zorder=4))

for p, b0, b1 in gold_levels:
    ax.plot([b0, b1], [p, p], color='#b8860b', lw=3.4, solid_capstyle='butt', zorder=7)

for b0, b1, t, b, fc, al, lw in black_boxes:
    if fc != 'none':
        ax.add_patch(Rectangle((b0, b), b1-b0, t-b, facecolor=fc, alpha=al, lw=0, zorder=5))
    ax.add_patch(Rectangle((b0, b), b1-b0, t-b, fill=False, edgecolor='black', lw=lw, zorder=6))
ax.plot([16, 48.9], [7144.4, 7197.7], color='#0b2a33', lw=2.4, zorder=6)

for lab, b, p in sigma_labels:
    ax.text(b, p, lab, color='#1f5a2a', fontsize=8, va='center', ha='left', zorder=7)

for b, n, d in zip(day_bars, day_names, day_dates):
    ax.text(b, 7220.4, n, color='#6b6fc5', fontsize=14.3, style='italic', weight='bold', va='center', zorder=8)
    ax.text(b, 7217.2, d, color='#6b6fc5', fontsize=14.3, style='italic', weight='bold', va='center', zorder=8)

serif = 'Liberation Serif'
for lab, p in zip(['Pacific Time ,15 Minutes ='+"'"+'s 900 Seconds', 'ES', '30000 Tick'], [7137.9, 7134.8, 7131.6]):
    ax.text(144.4, p, lab, family=serif, color='#6b6fc5', fontsize=15.5, va='center', zorder=8)
fig.text(2695/W, 1-18/H, 'EMA 21n, ATR in TICKS, Efficiency Index colors bars', family=serif, color='#7b79c9', fontsize=12.5, ha='right', va='center')
fig.text(90/W, 1-1333/H, "15 Minutes ='s 900 Seconds", color='#e8a58e', fontsize=14.4, va='center')

# atr panel
ax2 = panel(1355, 1465)
ax2.set_ylim(34.56, 73.16)
ax2.set_yticks([40, 50, 60])
ax2.grid(False)
ax2.axhline(40, color=GRID, lw=1.1, zorder=1)
atr = np.array(atr_tick)
xa = np.arange(len(atr))
thresh = 41.6
below = Line2D(xa, atr, color='#ffd700', lw=3.3, zorder=3)
ax2.add_line(below)
below.set_clip_path(Rectangle((XLIM[0], 34.56), XLIM[1]-XLIM[0], thresh-34.56, transform=ax2.transData))
atr_segs = [[(i, atr[i]), (i+1, atr[i+1])] for i in range(len(atr)-1)]
seg_cols = []
for i in range(len(atr)-1):
    red = any(a0 <= i < a1 for a0, a1 in atr_red_spans)
    seg_cols.append('#dc3030' if red else '#879900')
above = LineCollection(atr_segs, colors=seg_cols, lw=3.3, zorder=3, capstyle='round')
ax2.add_collection(above)
above.set_clip_path(Rectangle((XLIM[0], thresh), XLIM[1]-XLIM[0], 73.16-thresh, transform=ax2.transData))
ax2.plot(eff_bars, eff_vals, color='#6e74c8', lw=1.8, zorder=4)
ax2.plot([XLIM[0], 336], [thresh, thresh], color='black', lw=3.8, solid_capstyle='butt', zorder=5)

# time per tick panel
ax3 = panel(1465, 1548)
ax3.set_ylim(618, 2693)
ax3.set_yticks([])
ax3.grid(False)
tp = np.full(len(atr), float(tick_base))
tp[spike_bars] = spike_vals
ax3.bar(spike_bars, np.array(spike_vals)-618, bottom=618, width=.3, color='#ffa500', lw=0, zorder=2)
ax3.plot(xa, tp, color='#d63fd6', lw=2.0, zorder=3)

# obvm panel
ax4 = panel(1548, 1842)
ax4.set_ylim(164, 1155)
ax4.set_yticks([200, 400, 600, 800])
ax4.set_yticklabels(['200K', '400K', '600K', '800K'])
ax4.grid(False)
for v in [200, 800]:
    ax4.axhline(v, color=GRID, lw=1.1, zorder=1)
ax4.plot(obv_bars, obv_vals, color='#f5a623', lw=1.2, zorder=3)
ax4.plot(obv_avg_bars, obv_avg_vals, color='#2e8b2e', lw=1.2, zorder=4)
ax4.spines['bottom'].set_visible(True)
ax4.spines['bottom'].set_color(GRID)
ax4.set_xticks(tick_bars)
ax4.set_xticklabels(tick_labels)
ax4.set_xticks(minor_bars, minor=True)
ax4.tick_params(axis='x', which='both', length=8, width=1, color=GRID, labelsize=13.5, pad=9, labelcolor='#1c2b33')

# day separators run over every panel
ov = fig.add_axes([79/W, 1-1842/H, (2708-79)/W, 1842/H])
ov.set_xlim(*XLIM); ov.set_ylim(1842, 0); ov.axis('off'); ov.patch.set_alpha(0)
ov.vlines(day_lines, 0, 1838, colors=day_line_cols, lw=1.0, zorder=2)
bg.set_zorder(0); ov.set_zorder(1); ax.set_zorder(2); ax2.set_zorder(2); ax3.set_zorder(2); ax4.set_zorder(2)

def f(xp, yp):
    return (xp/W, 1-yp/H)

for yp in [1355, 1465, 1548]:
    fig.add_artist(Line2D([0, 2708/W], [1-yp/H, 1-yp/H], color=GRID, lw=1.3, zorder=3))

def tag_right(y0, y1, txt, fc, tc, ec=None, size=14.4, tx=2715):
    yc = (y0+y1)/2
    pts = [f(2702, yc), f(2708, y0), f(2795, y0), f(2795, y1), f(2708, y1)]
    fig.add_artist(Polygon(pts, closed=True, facecolor=fc, edgecolor=ec or fc, lw=1, transform=fig.transFigure, zorder=5))
    fig.text(tx/W, 1-yc/H, txt, color=tc, fontsize=size, va='center', zorder=6)

tag_right(1605, 1612, '', '#ffa500', 'white')
tag_right(507.6, 533, '7156.58', '#d2338a', 'white')
tag_right(553.5, 578, '7150.50', '#f1ead9', '#1c2b33', ec='#9a9a8a')
tag_right(1422, 1448, '45', '#6e74c8', 'white')
tag_right(1529, 1548, '743', '#ff00ff', 'white')
tag_right(1580, 1605.6, '1005K', '#008000', 'white')

# left side atr marker
pts = [f(2, 1425), f(78, 1425), f(86, 1438), f(78, 1451.6), f(2, 1451.6)]
fig.text(60/W, 1-1431/H, '50', color='#1c2b33', fontsize=14, ha='center', va='center', zorder=2)
fig.add_artist(Polygon(pts, closed=True, facecolor='#6e6e6e', edgecolor='#6e6e6e', transform=fig.transFigure, zorder=5))
fig.text(46/W, 1-1438.5/H, '40.26', color='#111111', fontsize=14.4, ha='center', va='center', zorder=6)

fig.add_artist(Rectangle(f(2, 1376), 17/W, 18/H, fill=False, edgecolor='#8a9099', lw=1, transform=fig.transFigure))
fig.text(10.5/W, 1-1367/H, 'F', color='#8a9099', fontsize=9.5, ha='center', va='center')

fig.text(90/W, 1-1371/H, 'RIGHT SIDE atrTick(ES 06-26 (30000 Tick),Wilder,21,false), CONTROLLING BAR COLOR amaEfficiencyRatio(ES 06-26 (30000 Tick),Balanced,0.75,5,5)',
         color='#16242c', fontsize=13.75, va='center', zorder=8)
fig.text(84/W, 1-1483/H, 'skTimePerTickBarModNT8(ES 06-26 (30000 Tick))', color='#16242c', fontsize=13.75, va='center', zorder=8)
fig.text(84/W, 1-1565/H, 'OBVM(ES 06-26 (30000 Tick),7,10)', color='#16242c', fontsize=13.75, va='center', zorder=8)
fig.text(84/W, 1-1823/H, '© 2026 NinjaTrader, LLC', color='#16242c', fontsize=13.9, va='center', zorder=8)
fig.text(4/W, 1-1890/H, 'ES 06-26 ES 06-26 30000 Tick', color='#707070', fontsize=7.5, va='center')
fig.text(2795/W, 1-1889/H, 'NINJATRADER', color='#e8452c', fontsize=11.5, ha='right', va='center', weight='bold')

fig.savefig('out.png', dpi=100, facecolor=BG)
